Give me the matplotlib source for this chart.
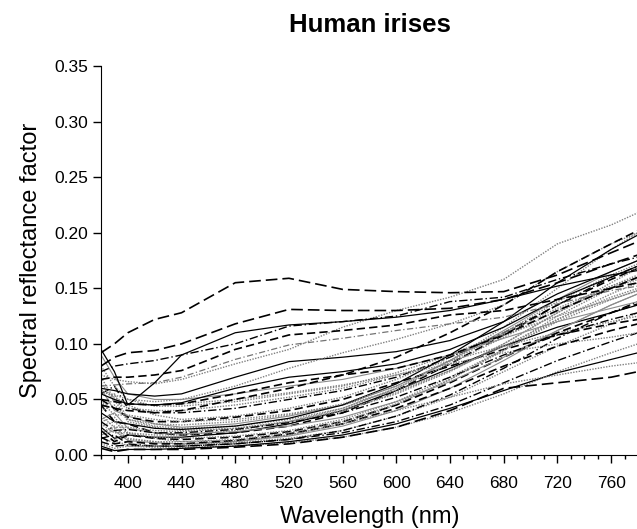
import matplotlib
matplotlib.use("Agg")
import matplotlib.pyplot as plt
from matplotlib.ticker import MultipleLocator, FormatStrFormatter

plt.rcParams["font.family"] = ["Liberation Sans", "DejaVu Sans"]

# wavelength grid (nm) shared by all curves
wavelengths = [380, 390, 400, 420, 440, 480, 520, 560, 600, 640, 680, 720, 760, 780]

# upper, well separated curves
u1 = [0.092, 0.100, 0.110, 0.122, 0.128, 0.155, 0.159, 0.149, 0.147, 0.146, 0.147, 0.162, 0.182, 0.192]
u2 = [0.080, 0.088, 0.092, 0.094, 0.100, 0.118, 0.131, 0.130, 0.130, 0.132, 0.140, 0.155, 0.172, 0.180]
u3 = [0.075, 0.080, 0.082, 0.085, 0.090, 0.100, 0.116, 0.120, 0.125, 0.138, 0.142, 0.158, 0.172, 0.178]
u4 = [0.068, 0.070, 0.070, 0.072, 0.076, 0.095, 0.108, 0.112, 0.117, 0.126, 0.130, 0.140, 0.150, 0.155]
u5 = [0.062, 0.063, 0.064, 0.065, 0.070, 0.086, 0.099, 0.105, 0.112, 0.118, 0.124, 0.136, 0.148, 0.152]
u6 = [0.095, 0.075, 0.045, 0.065, 0.090, 0.110, 0.117, 0.120, 0.124, 0.130, 0.140, 0.152, 0.162, 0.166]

# middle curves
m1 = [0.072, 0.068, 0.066, 0.064, 0.068, 0.082, 0.095, 0.115, 0.130, 0.142, 0.158, 0.190, 0.207, 0.218]
m2 = [0.060, 0.058, 0.055, 0.053, 0.055, 0.070, 0.084, 0.088, 0.093, 0.103, 0.120, 0.145, 0.165, 0.175]
m3 = [0.055, 0.050, 0.046, 0.045, 0.047, 0.060, 0.070, 0.075, 0.082, 0.095, 0.115, 0.140, 0.160, 0.170]
m4 = [0.050, 0.048, 0.046, 0.045, 0.046, 0.055, 0.065, 0.072, 0.078, 0.090, 0.108, 0.130, 0.150, 0.160]
m5 = [0.058, 0.054, 0.050, 0.048, 0.050, 0.062, 0.078, 0.092, 0.104, 0.118, 0.135, 0.165, 0.190, 0.200]
m6 = [0.045, 0.042, 0.040, 0.038, 0.040, 0.050, 0.060, 0.072, 0.088, 0.110, 0.135, 0.165, 0.190, 0.202]

# dense bundle
b1 = [0.030, 0.034, 0.020, 0.015, 0.012, 0.013, 0.018, 0.028, 0.045, 0.068, 0.095, 0.125, 0.150, 0.160]
b2 = [0.045, 0.030, 0.028, 0.020, 0.018, 0.020, 0.026, 0.038, 0.058, 0.082, 0.108, 0.135, 0.158, 0.168]
b3 = [0.020, 0.024, 0.015, 0.012, 0.010, 0.011, 0.015, 0.022, 0.035, 0.052, 0.075, 0.098, 0.118, 0.128]
b4 = [0.060, 0.040, 0.035, 0.028, 0.025, 0.028, 0.035, 0.045, 0.062, 0.085, 0.112, 0.140, 0.165, 0.175]
b5 = [0.015, 0.018, 0.010, 0.008, 0.008, 0.010, 0.014, 0.020, 0.030, 0.045, 0.065, 0.085, 0.102, 0.110]
b6 = [0.040, 0.045, 0.032, 0.026, 0.024, 0.026, 0.032, 0.042, 0.060, 0.085, 0.115, 0.150, 0.185, 0.200]
b7 = [0.025, 0.015, 0.018, 0.016, 0.016, 0.020, 0.028, 0.040, 0.058, 0.078, 0.098, 0.115, 0.128, 0.135]
b8 = [0.070, 0.050, 0.045, 0.036, 0.032, 0.035, 0.042, 0.052, 0.068, 0.088, 0.108, 0.125, 0.140, 0.148]
b9 = [0.010, 0.014, 0.008, 0.007, 0.007, 0.008, 0.011, 0.016, 0.025, 0.038, 0.055, 0.075, 0.092, 0.100]
b10 = [0.050, 0.042, 0.034, 0.030, 0.030, 0.034, 0.040, 0.050, 0.065, 0.080, 0.095, 0.108, 0.118, 0.122]
b11 = [0.035, 0.025, 0.025, 0.022, 0.021, 0.024, 0.030, 0.040, 0.056, 0.076, 0.100, 0.128, 0.152, 0.162]
b12 = [0.018, 0.022, 0.013, 0.011, 0.010, 0.012, 0.017, 0.026, 0.040, 0.060, 0.085, 0.112, 0.135, 0.145]
b13 = [0.055, 0.062, 0.042, 0.038, 0.038, 0.042, 0.050, 0.058, 0.070, 0.088, 0.110, 0.135, 0.160, 0.170]
b14 = [0.028, 0.020, 0.020, 0.018, 0.018, 0.022, 0.030, 0.042, 0.060, 0.082, 0.106, 0.130, 0.150, 0.158]
b15 = [0.008, 0.004, 0.005, 0.005, 0.006, 0.008, 0.012, 0.018, 0.028, 0.042, 0.058, 0.074, 0.086, 0.092]
b16 = [0.065, 0.048, 0.042, 0.040, 0.040, 0.045, 0.052, 0.060, 0.072, 0.085, 0.098, 0.110, 0.120, 0.125]
b17 = [0.042, 0.050, 0.030, 0.025, 0.022, 0.024, 0.030, 0.040, 0.055, 0.075, 0.100, 0.128, 0.155, 0.168]
b18 = [0.022, 0.012, 0.018, 0.015, 0.014, 0.016, 0.021, 0.030, 0.045, 0.065, 0.088, 0.110, 0.128, 0.136]
b19 = [0.080, 0.062, 0.050, 0.044, 0.044, 0.048, 0.055, 0.062, 0.074, 0.090, 0.110, 0.132, 0.152, 0.160]
b20 = [0.032, 0.038, 0.024, 0.020, 0.019, 0.021, 0.026, 0.034, 0.048, 0.066, 0.088, 0.112, 0.135, 0.145]
b21 = [0.012, 0.008, 0.009, 0.008, 0.008, 0.010, 0.014, 0.022, 0.035, 0.054, 0.078, 0.105, 0.128, 0.138]
b22 = [0.048, 0.036, 0.036, 0.032, 0.030, 0.032, 0.037, 0.045, 0.058, 0.076, 0.098, 0.122, 0.142, 0.150]
b23 = [0.038, 0.030, 0.028, 0.024, 0.023, 0.026, 0.033, 0.045, 0.064, 0.090, 0.120, 0.155, 0.185, 0.198]
b24 = [0.026, 0.030, 0.019, 0.016, 0.015, 0.017, 0.022, 0.032, 0.048, 0.070, 0.095, 0.120, 0.140, 0.148]
b25 = [0.058, 0.052, 0.046, 0.045, 0.046, 0.050, 0.056, 0.063, 0.072, 0.082, 0.092, 0.100, 0.106, 0.110]
b26 = [0.016, 0.010, 0.012, 0.010, 0.010, 0.013, 0.019, 0.028, 0.042, 0.060, 0.080, 0.098, 0.112, 0.118]
b27 = [0.045, 0.055, 0.032, 0.028, 0.027, 0.030, 0.036, 0.046, 0.062, 0.084, 0.110, 0.138, 0.162, 0.172]
b28 = [0.090, 0.070, 0.055, 0.050, 0.050, 0.055, 0.062, 0.068, 0.078, 0.090, 0.105, 0.120, 0.132, 0.138]
b29 = [0.030, 0.022, 0.023, 0.020, 0.020, 0.023, 0.029, 0.038, 0.052, 0.070, 0.090, 0.108, 0.122, 0.128]
b30 = [0.020, 0.026, 0.014, 0.012, 0.012, 0.014, 0.020, 0.030, 0.046, 0.068, 0.094, 0.122, 0.145, 0.155]

# lowest curves
l1 = [0.006, 0.003, 0.005, 0.005, 0.005, 0.007, 0.010, 0.016, 0.025, 0.040, 0.060, 0.065, 0.070, 0.075]
l2 = [0.010, 0.006, 0.008, 0.008, 0.009, 0.012, 0.018, 0.028, 0.040, 0.052, 0.064, 0.072, 0.080, 0.083]

upper = [u1, u2, u3, u4, u5, u6]
middle = [m1, m2, m3, m4, m5, m6]
bundle = [b1, b2, b3, b4, b5, b6, b7, b8, b9, b10, b11, b12, b13, b14, b15,
          b16, b17, b18, b19, b20, b21, b22, b23, b24, b25, b26, b27, b28, b29, b30]
lowest = [l1, l2]

STYLES = {
    "kdash": dict(color="k", lw=1.2, dashes=(5, 2.5)),
    "kdashlong": dict(color="k", lw=1.2, dashes=(7, 3)),
    "kdashdot": dict(color="k", lw=1.0, dashes=(6, 2, 1, 2)),
    "ksolid": dict(color="k", lw=0.9),
    "gdot": dict(color="0.5", lw=1.0, dashes=(1, 1)),
    "gsolid": dict(color="0.55", lw=0.8),
    "gdashdot": dict(color="0.45", lw=0.9, dashes=(5, 2, 1, 2)),
}
upper_styles = ["kdashlong", "kdashlong", "kdashdot", "kdash", "gdashdot", "ksolid"]
middle_styles = ["gdot", "ksolid", "ksolid", "kdash", "gdot", "kdash"]
bundle_cycle = ["gdot", "kdash", "gdot", "gsolid", "kdashdot", "gdot", "ksolid", "gdot"]
lowest_styles = ["kdashlong", "gdot"]

fig = plt.figure(figsize=(6.37, 5.29), dpi=100)
ax = fig.add_axes([101 / 637, 74 / 529, 537 / 637, 389 / 529])

for i, y in enumerate(bundle):
    ax.plot(wavelengths, y, **STYLES[bundle_cycle[i % len(bundle_cycle)]])
for y, s in zip(middle, middle_styles):
    ax.plot(wavelengths, y, **STYLES[s])
for y, s in zip(upper, upper_styles):
    ax.plot(wavelengths, y, **STYLES[s])
for y, s in zip(lowest, lowest_styles):
    ax.plot(wavelengths, y, **STYLES[s])

ax.set_xlim(380, 780)
ax.set_ylim(0, 0.35)
ax.xaxis.set_minor_locator(MultipleLocator(10))
ax.set_xticks(range(400, 780, 40))
ax.yaxis.set_major_locator(MultipleLocator(0.05))
ax.yaxis.set_major_formatter(FormatStrFormatter("%.2f"))
ax.spines["top"].set_visible(False)
ax.spines["right"].set_visible(False)
ax.tick_params(axis="both", which="major", direction="out", length=6, width=1, labelsize=12.5)
ax.tick_params(axis="x", which="minor", direction="out", length=3, width=1)
ax.tick_params(axis="y", pad=3)
ax.tick_params(axis="x", pad=9)

ax.set_xlabel("Wavelength (nm)", fontsize=17)
ax.xaxis.set_label_coords(0.5, -0.13)
ax.set_ylabel("Spectral reflectance factor", fontsize=17)
ax.yaxis.set_label_coords(-0.11, 0.5)
fig.text(369.5 / 637, 1 - 25 / 529, "Human irises", fontsize=18.5, fontweight="bold",
         ha="center", va="center")

fig.savefig("out.png", dpi=100)
